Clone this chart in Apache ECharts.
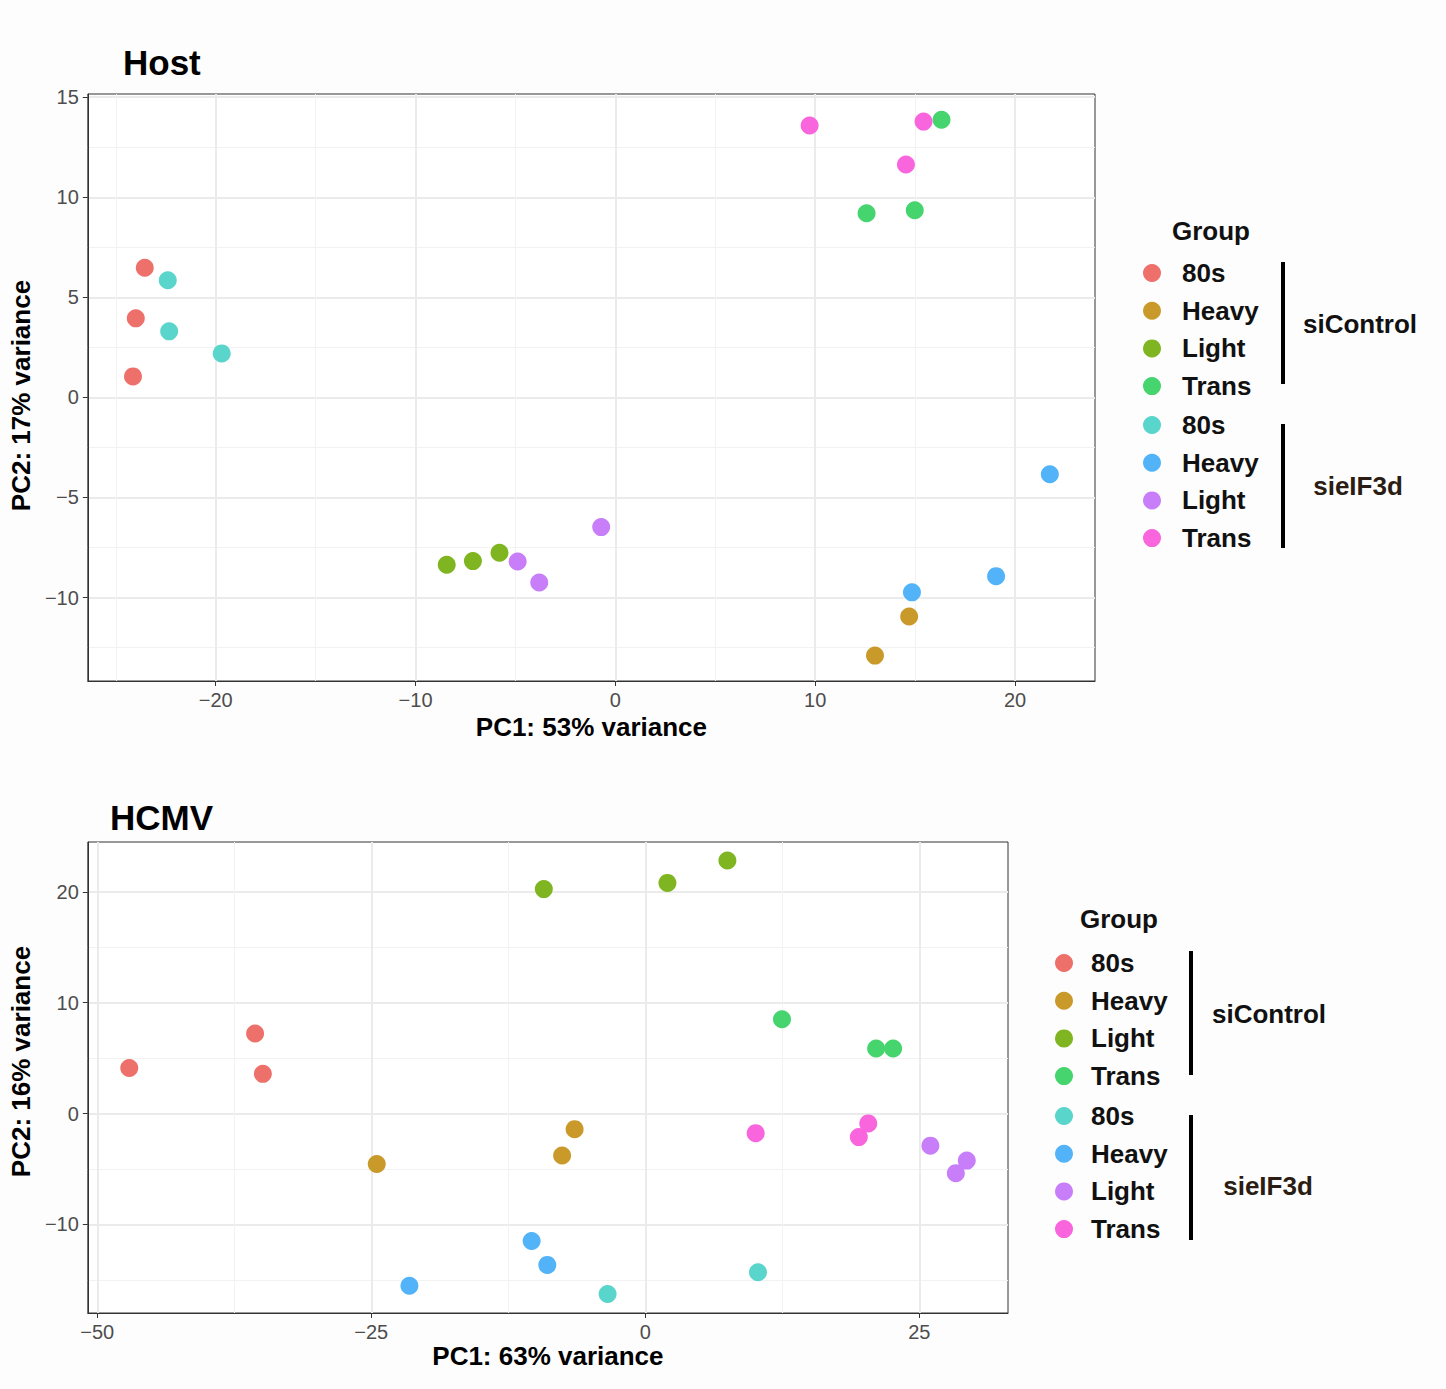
<!DOCTYPE html>
<html>
<head>
<meta charset="utf-8">
<script src="https://cdn.jsdelivr.net/npm/echarts@6/dist/echarts.min.js"></script>
<style>
  html, body { margin: 0; padding: 0; background: #fdfdfd; }
  #box { width: 1446px; height: 1389px; }
</style>
</head>
<body>
<div id="box"></div>
<script>
  // groups and colours
  const groups = ['80s', 'Heavy', 'Light', 'Trans']
  const ctrlColors = ['#ED706B', '#C99A2A', '#7FB520', '#46D46F']
  const kdColors = ['#5AD5CC', '#52B3F9', '#C77EF8', '#F865DC']

  // Host PCA  [PC1, PC2]
  const hostCtrl80s = [[-23.55, 6.48], [-24.0, 3.95], [-24.14, 1.05]]
  const hostCtrlHeavy = [[14.7, -10.95], [12.99, -12.9]]
  const hostCtrlLight = [[-8.44, -8.36], [-7.13, -8.18], [-5.8, -7.76]]
  const hostCtrlTrans = [[12.57, 9.2], [14.98, 9.35], [16.32, 13.87]]
  const hostKd80s = [[-22.4, 5.85], [-22.33, 3.3], [-19.7, 2.2]]
  const hostKdHeavy = [[21.74, -3.84], [19.05, -8.93], [14.84, -9.74]]
  const hostKdLight = [[-4.89, -8.2], [-3.81, -9.25], [-0.71, -6.48]]
  const hostKdTrans = [[9.72, 13.59], [15.42, 13.78], [14.54, 11.64]]

  // HCMV PCA  [PC1, PC2]
  const hcmvCtrl80s = [[-47.08, 4.11], [-35.6, 7.22], [-34.89, 3.58]]
  const hcmvCtrlHeavy = [[-24.5, -4.56], [-7.59, -3.79], [-6.45, -1.41]]
  const hcmvCtrlLight = [[-9.26, 20.25], [2.02, 20.81], [7.49, 22.83]]
  const hcmvCtrlTrans = [[12.47, 8.51], [21.06, 5.86], [22.61, 5.86]]
  const hcmvKd80s = [[-3.44, -16.28], [10.28, -14.32]]
  const hcmvKdHeavy = [[-21.52, -15.54], [-10.37, -11.5], [-8.94, -13.66]]
  const hcmvKdLight = [[26.01, -2.9], [28.33, -5.38], [29.33, -4.25]]
  const hcmvKdTrans = [[10.07, -1.77], [19.48, -2.13], [20.34, -0.89]]

  // axis ranges and ticks
  const hostXRange = [-26.4, 24.0]
  const hostYRange = [-14.17, 15.16]
  const hostXTicks = [-20, -10, 0, 10, 20]
  const hostXMinor = [-25, -15, -5, 5, 15]
  const hostYTicks = [-10, -5, 0, 5, 10, 15]
  const hostYMinor = [-12.5, -7.5, -2.5, 2.5, 7.5, 12.5]
  const hcmvXRange = [-50.86, 33.09]
  const hcmvYRange = [-18.0, 24.5]
  const hcmvXTicks = [-50, -25, 0, 25]
  const hcmvXMinor = [-37.5, -12.5, 12.5]
  const hcmvYTicks = [-10, 0, 10, 20]
  const hcmvYMinor = [-15, -5, 5, 15]

  const hostData = [hostCtrl80s, hostCtrlHeavy, hostCtrlLight, hostCtrlTrans,
                    hostKd80s, hostKdHeavy, hostKdLight, hostKdTrans]
  const hcmvData = [hcmvCtrl80s, hcmvCtrlHeavy, hcmvCtrlLight, hcmvCtrlTrans,
                    hcmvKd80s, hcmvKdHeavy, hcmvKdLight, hcmvKdTrans]

  const font = "'Liberation Sans', Arial, sans-serif"
  const ctrlNames = groups.map(g => 'siControl ' + g)
  const kdNames = groups.map(g => 'sieIF3d ' + g)
  const allNames = ctrlNames.concat(kdNames)
  const allColors = ctrlColors.concat(kdColors)

  const minus = v => String(v).replace('-', '\u2212')

  function mainAxis(grid, range, ticks, name, isX, gap, namePad) {
    return {
      type: 'value', gridIndex: grid, min: range[0], max: range[1],
      position: isX ? 'bottom' : 'left',
      name: name, nameLocation: 'middle', nameGap: gap,
      nameTextStyle: { fontFamily: font, fontSize: 26, fontWeight: 'bold', color: '#000', padding: namePad },
      axisLine: { show: true, onZero: false, lineStyle: { color: '#333', width: 1 } },
      axisTick: { show: true, length: 5, customValues: ticks, lineStyle: { color: '#333', width: 1 } },
      axisLabel: { customValues: ticks, fontFamily: font, fontSize: 20, color: '#4d4d4d', margin: 9, formatter: minus },
      splitLine: { show: true, lineStyle: { color: '#ebebeb', width: 2 } }
    }
  }
  function minorAxis(grid, range, ticks) {
    return {
      type: 'value', gridIndex: grid, min: range[0], max: range[1],
      axisLine: { show: false, onZero: false },
      axisTick: { show: false, customValues: ticks },
      axisLabel: { show: false },
      splitLine: { show: true, lineStyle: { color: '#f2f2f2', width: 1 } }
    }
  }

  function makeSeries(data, xi, yi) {
    return data.map((d, i) => ({
      name: allNames[i], type: 'scatter', xAxisIndex: xi, yAxisIndex: yi,
      symbol: 'circle', symbolSize: 18,
      itemStyle: { color: allColors[i], opacity: 1 },
      data: d
    }))
  }

  function legend(names, left, top, pad) {
    return {
      orient: 'vertical', left: left, top: top, data: names, padding: 0,
      icon: 'circle', itemWidth: 18, itemHeight: 18, itemGap: 11.7,
      selectedMode: false,
      formatter: n => n.split(' ')[1],
      textStyle: { fontFamily: font, fontSize: 26, fontWeight: 'bold', color: '#111', lineHeight: 26, padding: [0, 0, 0, pad] }
    }
  }

  function bracket(x, y1, y2) {
    return { type: 'line', shape: { x1: x, y1: y1, x2: x, y2: y2 }, style: { stroke: '#000', lineWidth: 4 } }
  }
  function label(text, x, y, color, align) {
    return { type: 'text', x: x, y: y,
      style: { text: text, fontFamily: font, fontSize: 26, fontWeight: 'bold', fill: color, align: align || 'center', verticalAlign: 'middle' } }
  }

  const myChart = echarts.init(document.getElementById('box'), null, { renderer: 'svg' })
  const option = {
    backgroundColor: '#fdfdfd',
    animation: false,
    title: [
      { text: 'Host', left: 123, top: 45, padding: 0, textStyle: { fontFamily: font, fontSize: 35, fontWeight: 'bold', color: '#000' } },
      { text: 'HCMV', left: 110, top: 800, padding: 0, textStyle: { fontFamily: font, fontSize: 35, fontWeight: 'bold', color: '#000' } }
    ],
    grid: [
      { left: 87, top: 94, width: 1008, height: 587, show: true, backgroundColor: '#fff', borderColor: '#333', borderWidth: 1, containLabel: false },
      { left: 87, top: 842, width: 921, height: 471, show: true, backgroundColor: '#fff', borderColor: '#333', borderWidth: 1, containLabel: false }
    ],
    xAxis: [
      mainAxis(0, hostXRange, hostXTicks, 'PC1: 53% variance', true, 33),
      minorAxis(0, hostXRange, hostXMinor),
      mainAxis(1, hcmvXRange, hcmvXTicks, 'PC1: 63% variance', true, 30),
      minorAxis(1, hcmvXRange, hcmvXMinor)
    ],
    yAxis: [
      mainAxis(0, hostYRange, hostYTicks, 'PC2: 17% variance', false, 44, [0, 16, 0, 0]),
      minorAxis(0, hostYRange, hostYMinor),
      mainAxis(1, hcmvYRange, hcmvYTicks, 'PC2: 16% variance', false, 49, [0, 0, 0, 32]),
      minorAxis(1, hcmvYRange, hcmvYMinor)
    ],
    legend: [
      legend(ctrlNames, 1143, 260, 16),
      legend(kdNames, 1143, 412, 16),
      legend(ctrlNames, 1055, 950, 13),
      legend(kdNames, 1055, 1103, 13)
    ],
    graphic: [
      label('Group', 1172, 231, '#111', 'left'),
      bracket(1283, 262, 384),
      bracket(1283, 424, 548),
      label('siControl', 1360, 324, '#111'),
      label('sieIF3d', 1358, 486, '#2b1d14'),
      label('Group', 1080, 919, '#111', 'left'),
      bracket(1191, 951, 1075),
      bracket(1191, 1115, 1240),
      label('siControl', 1269, 1014, '#111'),
      label('sieIF3d', 1268, 1186, '#2b1d14')
    ],
    series: makeSeries(hostData, 0, 0).concat(makeSeries(hcmvData, 2, 2))
  }
  myChart.setOption(option)
</script>
</body>
</html>
